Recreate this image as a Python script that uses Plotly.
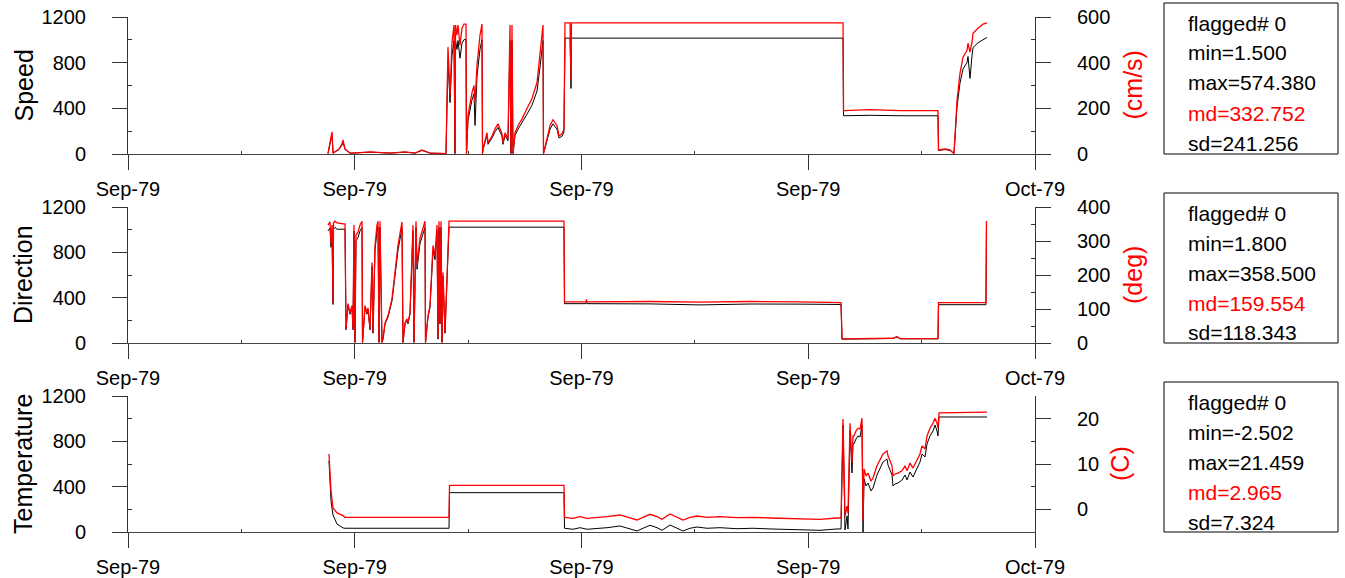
import pandas as pd
import plotly.graph_objects as go

# ---------------- data (days after 1979-09-01 00:00) ----------------
START = "1979-09-01"
END = "1979-10-01"
x_tick_days = [0, 7.5, 15, 22.5, 30]
x_minor_days = [3.75, 11.25, 18.75, 26.25]

speed_days = [
    6.615, 6.748, 6.781, 6.979, 7.078, 7.111, 7.178, 7.343, 7.442, 8.005,
    8.666, 9.162, 9.493, 9.725, 9.989, 10.518, 10.584, 10.651, 10.717, 10.783,
    10.816, 10.833, 10.882, 10.915, 10.981, 11.047, 11.114, 11.180, 11.196, 11.246,
    11.378, 11.445, 11.478, 11.544, 11.643, 11.709, 11.726, 11.742, 11.875, 11.908,
    12.040, 12.139, 12.238, 12.371, 12.404, 12.470, 12.569, 12.635, 12.668, 12.701,
    12.734, 12.801, 12.900, 13.032, 13.197, 13.363, 13.528, 13.628, 13.727, 13.743,
    13.859, 13.958, 14.057, 14.190, 14.256, 14.355, 14.421, 14.454, 14.620, 14.653,
    14.669, 23.650, 23.667, 24.543, 25.535, 26.792, 26.808, 27.023, 27.189, 27.321,
    27.420, 27.519, 27.619, 27.751, 27.784, 27.850, 27.917, 27.950, 28.115, 28.281,
    28.412,
]
speed_raw = [
    4, 171, 8, 39, 78, 109, 39, 8, 8, 16,
    8, 16, 8, 31, 8, 4, 823, 450, 862, 994,
    4, 994, 916, 994, 839, 971, 1002, 1002, 4, 295,
    474, 528, 250, 683, 916, 1002, 4, 39, 163, 85,
    140, 194, 233, 155, 85, 163, 116, 994, 4, 994,
    4, 163, 217, 272, 349, 427, 551, 761, 994, 4,
    116, 217, 264, 217, 140, 155, 194, 1015, 1015, 574,
    1015, 1015, 335, 339, 335, 335, 31, 39, 31, 4,
    412, 621, 745, 800, 854, 662, 862, 932, 975, 1002,
    1021,
]
speed_cms = [
    1.5, 97, 4, 22, 44, 62, 22, 4, 4, 9,
    4, 9, 4, 18, 4, 1.5, 468, 256, 490, 565,
    1.5, 565, 521, 565, 476, 551, 569, 569, 1.5, 168,
    269, 300, 225, 388, 521, 569, 1.5, 22, 93, 49,
    79, 110, 132, 88, 49, 93, 66, 565, 1.5, 565,
    1.5, 93, 124, 154, 199, 243, 313, 432, 565, 1.5,
    66, 124, 150, 124, 79, 88, 110, 574, 574, 322,
    574, 574, 190, 194, 190, 190, 18, 22, 18, 1.5,
    234, 353, 424, 454, 485, 446, 490, 529, 551, 569,
    574,
]

dir_days = [
    6.615, 6.681, 6.715, 6.748, 6.781, 6.797, 6.847, 6.913, 7.178, 7.211,
    7.277, 7.343, 7.409, 7.442, 7.475, 7.508, 7.541, 7.607, 7.674, 7.740,
    7.757, 7.839, 7.905, 7.938, 8.005, 8.071, 8.104, 8.170, 8.236, 8.269,
    8.302, 8.335, 8.401, 8.435, 8.501, 8.600, 8.732, 8.831, 8.931, 9.063,
    9.096, 9.162, 9.228, 9.261, 9.328, 9.427, 9.460, 9.526, 9.559, 9.658,
    9.758, 9.824, 9.840, 9.923, 9.989, 10.088, 10.155, 10.221, 10.254, 10.287,
    10.320, 10.353, 10.386, 10.419, 10.485, 10.551, 10.584, 10.618, 14.421, 14.438,
    15.149, 15.165, 15.182, 17.266, 18.920, 20.574, 22.227, 23.584, 23.617, 24.543,
    25.303, 25.435, 25.535, 26.792, 26.808, 28.379, 28.395,
]
dir_raw = [
    989, 1015, 844, 989, 340, 1006, 1020, 1004, 1004, 117,
    331, 254, 314, 117, 989, 5, 903, 929, 989, 1020,
    5, 314, 254, 294, 117, 675, 86, 818, 989, 1020,
    5, 1020, 5, 34, 168, 228, 371, 590, 818, 1015,
    5, 168, 202, 168, 254, 989, 5, 1020, 650, 878,
    963, 1020, 5, 228, 314, 818, 735, 989, 34, 1020,
    168, 1020, 5, 590, 86, 507, 675, 1022, 1022, 347,
    347, 365, 347, 345, 336, 344, 343, 340, 34, 40,
    40, 54, 37, 37, 338, 338, 1020,
]
dir_deg = [
    347, 356, 296, 347, 119, 353, 358, 353, 350, 41,
    116, 89, 110, 41, 347, 1.8, 317, 326, 347, 358,
    1.8, 110, 89, 103, 41, 237, 30, 287, 347, 358,
    1.8, 358, 1.8, 12, 59, 80, 130, 207, 287, 356,
    1.8, 59, 71, 59, 89, 347, 1.8, 358, 228, 308,
    338, 358, 1.8, 80, 110, 287, 258, 347, 12, 358,
    59, 358, 1.8, 207, 30, 178, 237, 358.5, 358.5, 121,
    121, 128, 121, 122, 120, 122, 121, 119, 12, 14,
    14, 19, 13, 13, 119, 119, 358.5,
]

temp_days = [
    6.648, 6.715, 6.781, 6.913, 7.111, 7.178, 10.618, 10.634, 14.421, 14.438,
    14.719, 14.951, 15.182, 15.513, 15.844, 16.273, 16.538, 16.836, 17.034, 17.266,
    17.498, 17.663, 17.927, 18.159, 18.357, 18.589, 18.821, 19.151, 19.581, 20.144,
    20.673, 21.235, 21.797, 22.326, 22.889, 23.451, 23.584, 23.650, 23.716, 23.782,
    23.815, 23.881, 23.947, 23.980, 24.013, 24.080, 24.146, 24.212, 24.278, 24.311,
    24.345, 24.411, 24.477, 24.576, 24.642, 24.774, 24.874, 24.973, 25.105, 25.138,
    25.270, 25.303, 25.370, 25.469, 25.601, 25.700, 25.767, 25.866, 25.965, 26.097,
    26.196, 26.263, 26.362, 26.428, 26.527, 26.627, 26.693, 26.759, 26.792, 26.825,
    28.412,
]
temp_raw = [
    627, 273, 150, 70, 36, 33, 33, 347, 347, 33,
    24, 38, 24, 29, 38, 53, 33, 9, 33, 59,
    38, 15, 62, 33, 9, 33, 44, 33, 38, 29,
    33, 27, 21, 18, 15, 27, 27, 944, 18, 141,
    26, 891, 521, 777, 777, 821, 847, 838, 944, 0,
    468, 406, 432, 362, 388, 503, 565, 618, 644, 591,
    503, 406, 424, 432, 459, 503, 459, 529, 485, 565,
    618, 688, 662, 777, 847, 891, 944, 891, 847, 1015,
    1015,
]
temp_c = [
    12.2, 4.0, 0.3, -0.8, -1.4, -1.77, -1.77, 5.3, 5.3, -1.77,
    -1.98, -1.62, -1.98, -1.84, -1.62, -1.25, -1.77, -2.35, -1.77, -1.10,
    -1.62, -2.20, -1.03, -1.77, -2.35, -1.77, -1.47, -1.77, -1.62, -1.84,
    -1.77, -1.91, -2.06, -2.13, -2.20, -1.91, -1.91, 19.9, -1.5, 0.7,
    -0.8, 19.0, 10.2, 16.2, 16.2, 17.3, 17.9, 17.7, 20.1, -2.5,
    8.9, 7.4, 8.0, 6.2, 6.9, 9.6, 11.1, 12.2, 12.9, 11.8,
    9.6, 7.4, 7.8, 8.0, 8.5, 9.6, 8.5, 10.2, 9.1, 11.1,
    12.2, 14.0, 13.3, 16.2, 17.9, 19.0, 20.1, 19.0, 17.9, 21.3,
    21.46,
]

left_ticks = [0, 400, 800, 1200]
left_minor = [200, 600, 1000]

speed_stats = ["flagged# 0", "min=1.500", "max=574.380", "md=332.752", "sd=241.256"]
dir_stats = ["flagged# 0", "min=1.800", "max=358.500", "md=159.554", "sd=118.343"]
temp_stats = ["flagged# 0", "min=-2.502", "max=21.459", "md=2.965", "sd=7.324"]
stats_colors = ["black", "black", "black", "red", "black"]

# ---------------- layout helpers ----------------
W, H = 1345, 578
FONT = "Liberation Sans, Arial, sans-serif"


def fx(p):
    return p / W


def fy(p):
    return 1 - p / H


def to_dates(days):
    return pd.Timestamp(START) + pd.to_timedelta(days, unit="D")


panels = [
    dict(days=speed_days, black=speed_raw, red=speed_cms, top=17, bot=154,
         rrange=[0, 600], rticks=[0, 200, 400, 600], rminor=[100, 300, 500],
         ltitle="Speed", rtitle="(cm/s)", rtx=1132, stats=speed_stats, btop=3, bbot=154),
    dict(days=dir_days, black=dir_raw, red=dir_deg, top=207, bot=343,
         rrange=[0, 400], rticks=[0, 100, 200, 300, 400], rminor=[50, 150, 250, 350],
         ltitle="Direction", rtitle="(deg)", rtx=1133, stats=dir_stats, btop=193, bbot=343),
    dict(days=temp_days, black=temp_raw, red=temp_c, top=396, bot=532,
         rrange=[-5, 25], rticks=[0, 10, 20], rminor=[5, 15],
         ltitle="Temperature", rtitle="(C)", rtx=1120, stats=temp_stats, btop=382, bbot=532),
]

fig = go.Figure()
layout = dict(
    width=W, height=H, margin=dict(l=0, r=0, t=0, b=0, pad=0, autoexpand=False),
    paper_bgcolor="white", plot_bgcolor="white", showlegend=False,
    font=dict(family=FONT, size=20, color="black"),
)
annotations = []
shapes = []

tickvals = to_dates(x_tick_days)
minorvals = to_dates(x_minor_days)

for i, p in enumerate(panels, start=1):
    xn = "x" if i == 1 else f"x{i}"
    yl = 2 * i - 1
    yr = 2 * i
    yln = "y" if yl == 1 else f"y{yl}"
    yrn = f"y{yr}"
    xkey = "xaxis" if i == 1 else f"xaxis{i}"
    ylkey = "yaxis" if yl == 1 else f"yaxis{yl}"
    yrkey = f"yaxis{yr}"

    dates = to_dates(p["days"])
    fig.add_trace(go.Scatter(x=dates, y=p["black"], mode="lines",
                             line=dict(color="black", width=1), xaxis=xn, yaxis=yln,
                             hoverinfo="skip"))
    fig.add_trace(go.Scatter(x=dates, y=p["red"], mode="lines",
                             line=dict(color="red", width=1.3), xaxis=xn, yaxis=yrn,
                             hoverinfo="skip"))

    layout[xkey] = dict(
        domain=[fx(128), fx(1035)], anchor=yln, type="date", automargin=False,
        range=[pd.Timestamp(START), pd.Timestamp(END)],
        tickmode="array", tickvals=tickvals, tickformat="%b-%y",
        ticks="outside", ticklen=15, tickcolor="#333", tickwidth=1,
        showline=True, linecolor="#444", linewidth=1,
        showgrid=False, zeroline=False, ticklabelstandoff=2,
        minor=dict(tickmode="array", tickvals=minorvals, ticks="inside",
                   ticklen=3, tickcolor="#333", showgrid=False),
        tickfont=dict(size=20),
    )
    layout[ylkey] = dict(
        domain=[fy(p["bot"]), fy(p["top"])], anchor=xn, automargin=False,
        range=[0, 1200], tickmode="array", tickvals=left_ticks,
        ticks="outside", ticklen=15, tickcolor="#333",
        showline=True, linecolor="#333", linewidth=1,
        showgrid=False, zeroline=False, ticklabelstandoff=22,
        minor=dict(tickmode="array", tickvals=left_minor, ticks="inside",
                   ticklen=4, tickcolor="#333", showgrid=False),
        tickfont=dict(size=20),
    )
    layout[yrkey] = dict(
        overlaying=yln, side="right", anchor=xn, automargin=False,
        range=p["rrange"], tickmode="array", tickvals=p["rticks"],
        ticks="outside", ticklen=15, tickcolor="#333",
        showline=True, linecolor="#333", linewidth=1,
        showgrid=False, zeroline=False, ticklabelstandoff=22,
        minor=dict(tickmode="array", tickvals=p["rminor"], ticks="inside",
                   ticklen=4, tickcolor="#333", showgrid=False),
        tickfont=dict(size=20),
    )

    mid = (p["top"] + p["bot"]) / 2
    annotations.append(dict(text=p["ltitle"], x=fx(23), y=fy(mid), xref="paper", yref="paper",
                            xanchor="center", yanchor="middle", textangle=-90,
                            showarrow=False, font=dict(size=25, color="black", family=FONT)))
    annotations.append(dict(text=p["rtitle"], x=fx(p["rtx"]), y=fy(mid), xref="paper", yref="paper",
                            xanchor="center", yanchor="middle", textangle=-90,
                            showarrow=False, font=dict(size=25, color="red", family=FONT)))

    shapes.append(dict(type="rect", xref="paper", yref="paper",
                       x0=fx(1164), x1=fx(1338), y0=fy(p["bbot"]), y1=fy(p["btop"]),
                       line=dict(color="black", width=1), fillcolor="rgba(0,0,0,0)"))
    for k, (txt, col) in enumerate(zip(p["stats"], stats_colors)):
        annotations.append(dict(text=txt, x=fx(1186), y=fy(p["btop"] + 20 + 30 * k),
                                xref="paper", yref="paper", xanchor="left", yanchor="middle",
                                showarrow=False, font=dict(size=21, color=col, family=FONT)))

layout["annotations"] = annotations
layout["shapes"] = shapes
fig.update_layout(**layout)

fig.write_html("out.html", config={"displayModeBar": False},
               post_script="document.body.style.margin='0';")
